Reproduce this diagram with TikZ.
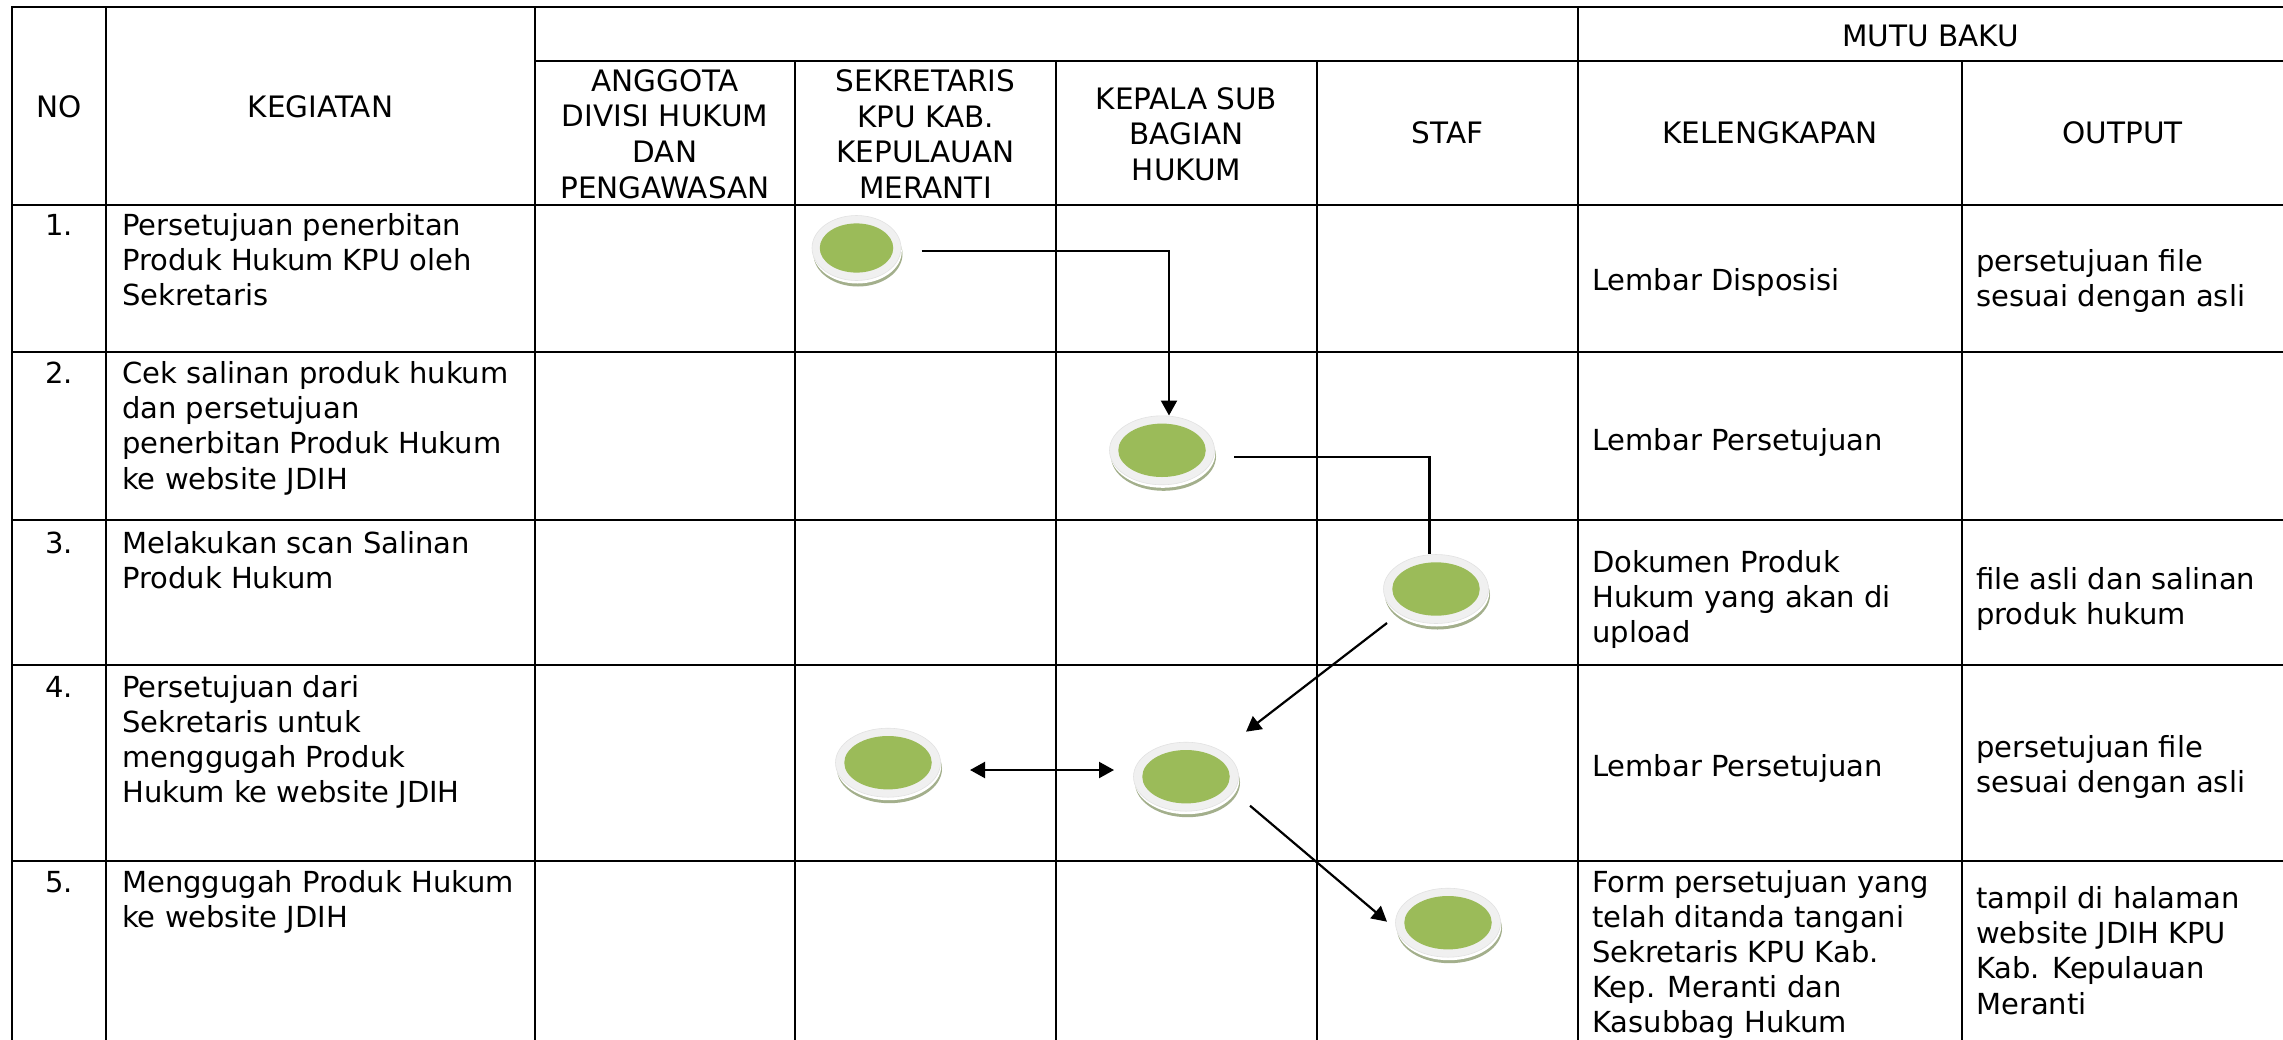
\documentclass[tikz,border=0pt]{standalone}
\usepackage{fontspec}
\setmainfont{DejaVu Sans}
\usetikzlibrary{shapes.geometric,arrows.meta,calc,shadows}
\definecolor{discgreen}{HTML}{9BBB59}
\definecolor{ringgray}{HTML}{F0F0F0}
\definecolor{ringedge}{HTML}{E2E2E2}
\definecolor{shadowgreen}{HTML}{A3AF8C}
\newcommand{\hdfont}{\fontsize{29.5}{35.7}\selectfont}
\newcommand{\bdfont}{\fontsize{29}{35.2}\selectfont}
\newcommand{\celltxt}[2]{\parbox[t]{#1}{\raggedright #2}}
\begin{document}
\begin{tikzpicture}[x=1pt,y=-1pt,
  hline/.style={line width=2.3pt},
  vline/.style={line width=1.9pt},
  hd/.style={font=\hdfont, align=center, inner sep=0pt},
  bd/.style={font=\bdfont, inner sep=0pt, anchor=base west},
  num/.style={font=\bdfont, inner sep=0pt, anchor=base},
  discbase/.style n args={4}{ellipse, inner sep=0pt, fill=ringgray, draw=ringedge, line width=0.6pt,
     general shadow={fill=shadowgreen, shadow xshift=1.5pt, shadow yshift=-6pt},
     general shadow={fill=white, shadow xshift=0.8pt, shadow yshift=-3pt},
     minimum width=#1, minimum height=#2,
     path picture={\fill[discgreen] (path picture bounding box.center) ellipse [x radius=#3, y radius=#4];}},
  disc/.style={discbase={105pt}{69pt}{43.75pt}{26.7pt}},
  smalldisc/.style={discbase={89pt}{65pt}{36.75pt}{24.6pt}},
  conn/.style={line width=2.2pt},
  arr/.style={conn, -{Triangle[length=15pt,width=16pt]}},
  arrboth/.style={conn, {Triangle[length=15pt,width=16pt]}-{Triangle[length=15pt,width=16pt]}},
]
\useasboundingbox (0,0) rectangle (2283,1039);
\clip (0,0) rectangle (2283,1039);
\fill[white] (0,0) rectangle (2283,1039);

% table grid
\draw[hline] (12,7) -- (2290,7);
\draw[hline] (535,61) -- (2290,61);
\foreach \yy in {205,352,520,665,861} \draw[hline] (12,\yy) -- (2290,\yy);
\foreach \xx in {12,106,535,1578} \draw[vline] (\xx,6) -- (\xx,1045);
\foreach \xx in {795,1056,1317,1962} \draw[vline] (\xx,61) -- (\xx,1045);

% header
\node[hd] (hno) at (59,107) {NO};
\node[hd] (hkeg) at (320.5,107) {KEGIATAN};
\node[hd] (hmutu) at (1930.5,35.8) {MUTU BAKU};
\node[hd] (hang) at (665,134) {ANGGOTA\\DIVISI HUKUM\\DAN\\PENGAWASAN};
\node[hd] (hsek) at (925.5,134) {SEKRETARIS\\KPU KAB.\\KEPULAUAN\\MERANTI};
\node[hd] (hkep) at (1186.5,134) {KEPALA SUB\\BAGIAN\\HUKUM};
\node[hd] (hstaf) at (1447.5,133) {STAF};
\node[hd] (hkel) at (1770,133) {KELENGKAPAN};
\node[hd] (hout) at (2122.5,133) {OUTPUT};

% numbers
\node[num] (n1) at (59,235) {1.};
\node[num] (n2) at (59,383.5) {2.};
\node[num] (n3) at (59,553) {3.};
\node[num] (n4) at (59,697) {4.};
\node[num] (n5) at (59,892) {5.};

% kegiatan
\node[bd] (k1) at (122,235) {\celltxt{410pt}{Persetujuan penerbitan\\Produk Hukum KPU oleh\\Sekretaris}};
\node[bd] (k2) at (122,383.5) {\celltxt{410pt}{Cek salinan produk hukum\\dan persetujuan\\penerbitan Produk Hukum\\ke website JDIH}};
\node[bd] (k3) at (122,553) {\celltxt{410pt}{Melakukan scan Salinan\\Produk Hukum}};
\node[bd] (k4) at (122,697) {\celltxt{410pt}{Persetujuan dari\\Sekretaris untuk\\menggugah Produk\\Hukum ke website JDIH}};
\node[bd] (k5) at (122,892) {\celltxt{410pt}{Menggugah Produk Hukum\\ke website JDIH}};

% kelengkapan
\node[bd] (l1) at (1592,290) {\celltxt{365pt}{Lembar Disposisi}};
\node[bd] (l2) at (1592,450) {\celltxt{365pt}{Lembar Persetujuan}};
\node[bd] (l3) at (1592,572) {\celltxt{365pt}{Dokumen Produk\\Hukum yang akan di\\upload}};
\node[bd] (l4) at (1592,776) {\celltxt{365pt}{Lembar Persetujuan}};
\node[bd] (l5) at (1592,892) {\celltxt{365pt}{Form persetujuan yang\\telah ditanda tangani\\Sekretaris KPU Kab.\\Kep. Meranti dan\\Kasubbag Hukum}};

% output
\node[bd] (o1) at (1976,271) {\celltxt{320pt}{persetujuan file\\sesuai dengan asli}};
\node[bd] (o3) at (1976,589) {\celltxt{320pt}{file asli dan salinan\\produk hukum}};
\node[bd] (o4) at (1976,757) {\celltxt{320pt}{persetujuan file\\sesuai dengan asli}};
\node[bd] (o5) at (1976,908.5) {\celltxt{320pt}{tampil di halaman\\website JDIH KPU\\Kab. Kepulauan\\Meranti}};

% discs
\node[smalldisc] (c1) at (856.5,248) {};
\node[disc] (c2) at (1162,450.3) {};
\node[disc] (c3) at (1436,589) {};
\node[disc] (c4) at (888,762.7) {};
\node[disc] (c5) at (1186,776.7) {};
\node[disc] (c6) at (1448,922.7) {};

% connectors
\draw[arr] ($(c1.center)+(65,3)$) -| ($(c2.north)+(7,0)$);
\draw[conn] ($(c2.center)+(72,7)$) -| ($(c3.north)+(-6.5,0)$);
\draw[arr] ($(c3.center)+(-49,34)$) -- ($(c5.center)+(60,-45)$);
\draw[arrboth] ($(c4.center)+(82,7.3)$) -- ($(c5.center)+(-72,-6.7)$);
\draw[arr] ($(c5.center)+(64,29)$) -- ($(c6.center)+(-61,-1)$);
\end{tikzpicture}
\end{document}
